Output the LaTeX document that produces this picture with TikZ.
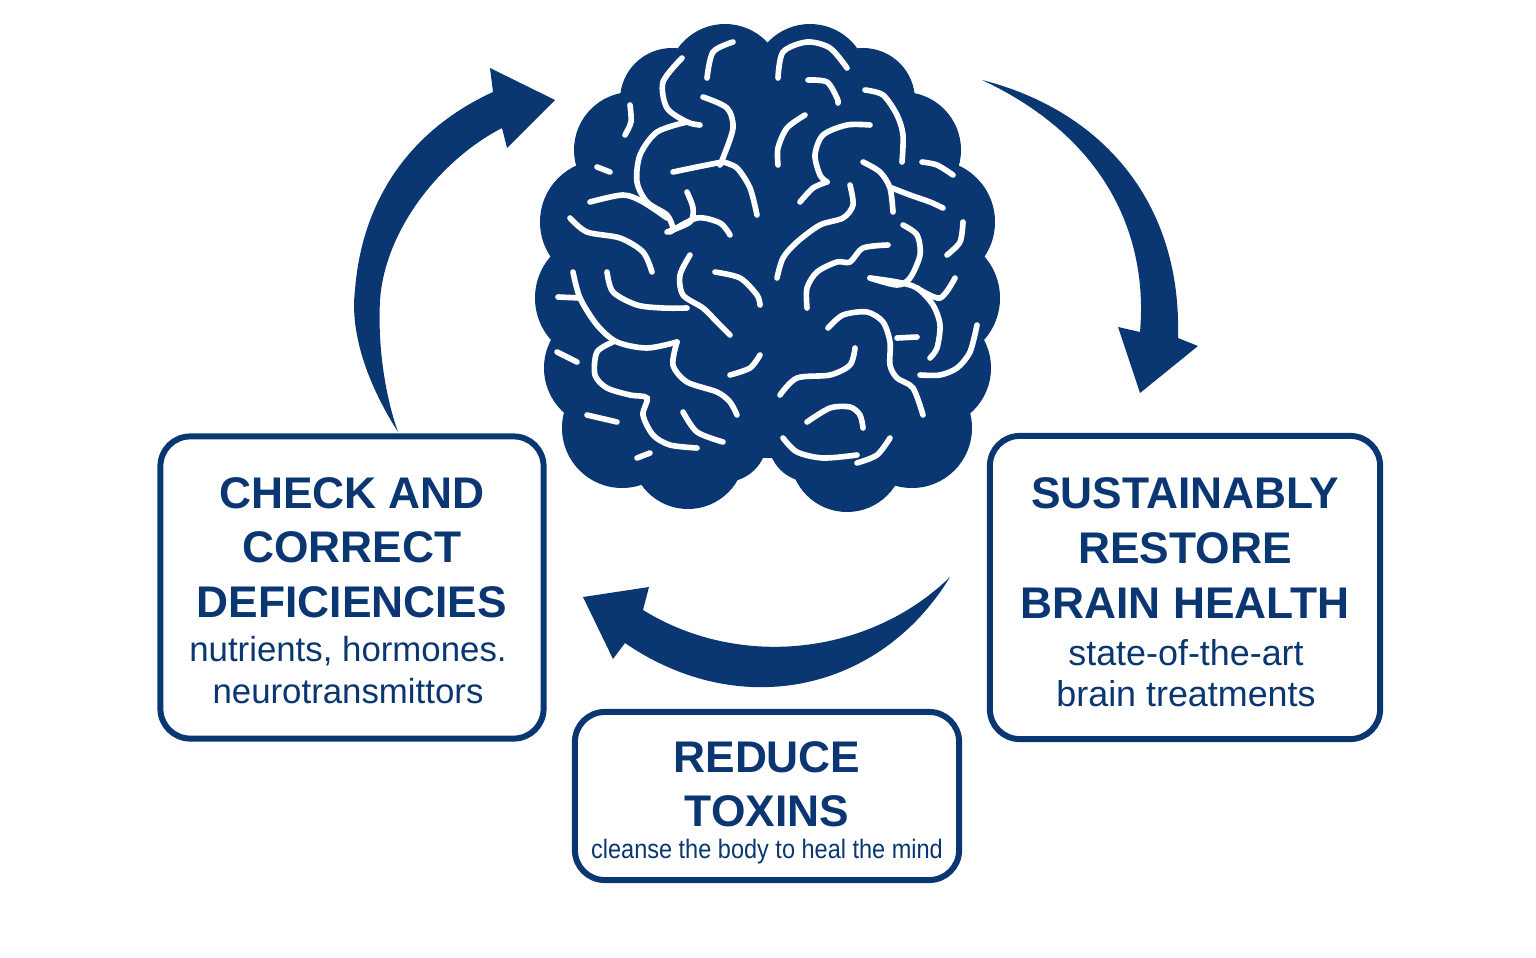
\documentclass[tikz,border=0pt]{standalone}
\usepackage{fontspec}
\setmainfont{Liberation Sans}
\newfontfamily\narrowsans[FakeStretch=0.88]{Liberation Sans}
\definecolor{navy}{RGB}{10,54,114}
\tikzset{
  stepbox/.style={draw=navy, line width=1.7pt, rounded corners=8.5pt, inner sep=0pt},
  headline/.style={text=navy, font=\fontsize{12.6}{15.4}\selectfont\bfseries, align=center, anchor=base, inner sep=0pt},
  subline/.style={text=navy, font=\fontsize{9.9}{11.9}\selectfont, align=center, anchor=base, inner sep=0pt},
  sulcus/.style={draw=white, line width=1.6pt, line cap=round},
  bigarrow/.style={fill=navy}
}

\begin{document}
\begin{tikzpicture}[x=0.01cm, y=-0.01cm]
  \useasboundingbox (0,0) rectangle (1536,957);

  % cycle arrows
  \fill[bigarrow] (398,432) .. controls (365,380) and (350,330) .. (355,290)
     .. controls (362,200) and (410,130) .. (493,92) -- (490,68) -- (555,100) -- (507,148) -- (502,128)
     .. controls (440,160) and (385,230) .. (380,300) .. controls (377,360) and (390,410) .. (398,432) -- cycle;
  \fill[bigarrow] (982,80) .. controls (1100,110) and (1182,200) .. (1178,338) -- (1198,346) -- (1140,393)
     -- (1118,327) -- (1140,332) .. controls (1148,240) and (1110,140) .. (982,80) -- cycle;
  \fill[bigarrow] (950,577) .. controls (880,692) and (740,722) .. (625,643) -- (613,659) -- (583,597)
     -- (649,587) -- (643,610) .. controls (740,670) and (870,655) .. (950,577) -- cycle;

  % brain
  \fill[navy] (767,268) ellipse[x radius=200, y radius=190];
  \foreach \cx/\cy/\r in {725/82/58, 672/100/52, 632/150/58, 602/222/62, 598/298/63, 604/368/60,
      622/428/60, 688/452/57, 725/440/42,
      810/82/58, 863/100/52, 903/150/58, 933/222/62, 937/298/63, 931/368/60,
      912/428/60, 847/455/57, 810/440/42}
    \fill[navy] (\cx,\cy) circle[radius=\r];
  % left hemisphere
  \draw[sulcus] plot[smooth] coordinates {(733,42) (713,52) (707,78)};
  \draw[sulcus] plot[smooth] coordinates {(682,58) (663,82) (667,108) (687,122) (700,125)};
  \draw[sulcus] plot[smooth] coordinates {(630,105) (631,122) (625,135)};
  \draw[sulcus] plot[smooth] coordinates {(703,97) (727,108) (733,128) (723,158) (720,165)};
  \draw[sulcus] plot[smooth] coordinates {(687,122) (657,132) (640,155) (637,182) (647,202) (667,215) (673,228)};
  \draw[sulcus] plot[smooth] coordinates {(723,162) (737,168) (750,188) (757,215)};
  \draw[sulcus] plot[smooth] coordinates {(722,162) (697,167) (673,172)};
  \draw[sulcus] plot[smooth] coordinates {(597,167) (610,172)};
  \draw[sulcus] plot[smooth] coordinates {(590,202) (623,195) (643,202) (667,218)};
  \draw[sulcus] plot[smooth] coordinates {(687,192) (693,208) (690,222) (667,232)};
  \draw[sulcus] plot[smooth] coordinates {(570,218) (587,232) (620,238) (643,252) (652,272)};
  \draw[sulcus] plot[smooth] coordinates {(670,232) (697,218) (720,223) (730,235)};
  \draw[sulcus] plot[smooth] coordinates {(690,255) (680,275) (683,295) (703,308) (717,322) (730,335)};
  \draw[sulcus] plot[smooth] coordinates {(715,272) (740,278) (757,295) (760,305)};
  \draw[sulcus] plot[smooth] coordinates {(607,272) (613,292) (637,305) (663,308) (687,308)};
  \draw[sulcus] plot[smooth] coordinates {(573,272) (580,298) (597,325) (617,342) (647,348) (677,342)};
  \draw[sulcus] plot[smooth] coordinates {(558,297) (580,298)};
  \draw[sulcus] plot[smooth] coordinates {(677,342) (673,365) (687,382) (717,392) (730,402) (737,415)};
  \draw[sulcus] plot[smooth] coordinates {(613,342) (597,352) (595,375) (607,388) (630,395) (647,398)
    (643,415) (653,435) (670,445) (697,448)};
  \draw[sulcus] plot[smooth] coordinates {(557,352) (577,362)};
  \draw[sulcus] plot[smooth] coordinates {(730,375) (750,368) (760,355)};
  \draw[sulcus] plot[smooth] coordinates {(587,415) (617,422)};
  \draw[sulcus] plot[smooth] coordinates {(683,412) (697,432) (723,442)};
  \draw[sulcus] plot[smooth] coordinates {(637,458) (650,453)};
  % right hemisphere
  \draw[sulcus] plot[smooth] coordinates {(778,78) (783,52) (807,42) (830,48) (847,68)};
  \draw[sulcus] plot[smooth] coordinates {(808,80) (827,82) (837,98) (838,103)};
  \draw[sulcus] plot[smooth] coordinates {(865,90) (883,95) (897,115) (903,135) (902,162)};
  \draw[sulcus] plot[smooth] coordinates {(805,115) (787,128) (778,148) (778,165)};
  \draw[sulcus] plot[smooth] coordinates {(870,125) (847,125) (823,135) (815,155) (820,175) (827,182)};
  \draw[sulcus] plot[smooth] coordinates {(827,182) (813,188) (800,202)};
  \draw[sulcus] plot[smooth] coordinates {(863,162) (880,172) (890,188) (893,212)};
  \draw[sulcus] plot[smooth] coordinates {(892,188) (910,195) (930,202) (943,208)};
  \draw[sulcus] plot[smooth] coordinates {(922,162) (937,165) (953,175)};
  \draw[sulcus] plot[smooth] coordinates {(850,185) (853,205) (843,218) (820,225) (797,242) (783,258) (777,278)};
  \draw[sulcus] plot[smooth] coordinates {(903,225) (917,235) (920,255) (910,278) (897,285) (870,278)};
  \draw[sulcus] plot[smooth] coordinates {(963,222) (960,242) (947,255)};
  \draw[sulcus] plot[smooth] coordinates {(888,245) (863,248) (850,262) (837,262) (817,272) (807,288) (807,308)};
  \draw[sulcus] plot[smooth] coordinates {(870,278) (897,282) (917,288) (933,305) (940,325) (937,348) (930,358)};
  \draw[sulcus] plot[smooth] coordinates {(917,288) (940,298) (955,278)};
  \draw[sulcus] plot[smooth] coordinates {(828,328) (843,315) (867,312) (883,322) (890,342) (890,365)
    (897,378) (913,388) (923,415)};
  \draw[sulcus] plot[smooth] coordinates {(897,338) (917,337)};
  \draw[sulcus] plot[smooth] coordinates {(855,348) (850,365) (830,375) (797,378) (780,395)};
  \draw[sulcus] plot[smooth] coordinates {(977,325) (970,352) (957,368) (940,375) (920,375)};
  \draw[sulcus] plot[smooth] coordinates {(807,422) (830,408) (850,407) (860,415) (863,428)};
  \draw[sulcus] plot[smooth] coordinates {(783,438) (797,452) (823,458) (857,455)};
  \draw[sulcus] plot[smooth] coordinates {(890,438) (877,455) (857,463)};

  % boxes
  \node[stepbox, minimum width=3.83cm, minimum height=3.02cm] (check) at (352,587.5) {};
  \node[headline] (checkhead) at (352,617) {CHECK AND\\CORRECT\\DEFICIENCIES};
  \node[subline] (checksub) at (348,703) {nutrients, hormones.\\neurotransmittors};

  \node[stepbox, minimum width=3.90cm, minimum height=3.03cm] (restore) at (1185,587.5) {};
  \node[headline, font=\fontsize{12.6}{15.6}\selectfont\bfseries] (restorehead) at (1185,618) {SUSTAINABLY\\RESTORE\\BRAIN HEALTH};
  \node[subline, font=\fontsize{10.2}{11.4}\selectfont] (restoresub) at (1186,706) {state-of-the-art\\brain treatments};

  \node[stepbox, minimum width=3.84cm, minimum height=1.68cm] (toxins) at (767,796) {};
  \node[headline, font=\fontsize{12.6}{15.1}\selectfont\bfseries] (toxinshead) at (767,826) {REDUCE\\TOXINS};
  \node[subline, font=\fontsize{7.6}{9}\narrowsans] (toxinssub) at (767,858) {cleanse the body to heal the mind};
\end{tikzpicture}
\end{document}
